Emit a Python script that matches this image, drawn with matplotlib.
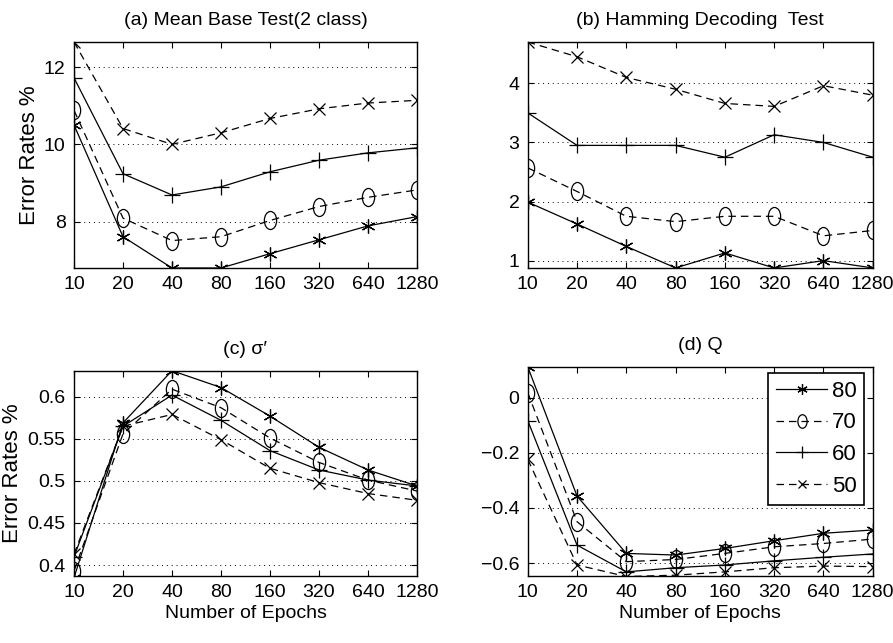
import matplotlib
matplotlib.use("Agg")
import matplotlib.pyplot as plt
from matplotlib.path import Path
from matplotlib.transforms import Affine2D

plt.rcParams['font.family'] = ['Liberation Sans', 'DejaVu Sans']
plt.rcParams['font.size'] = 14

epochs = ['10', '20', '40', '80', '160', '320', '640', '1280']
series_labels = ['80', '70', '60', '50']

a_80 = [10.5, 7.61, 6.8, 6.8, 7.17, 7.53, 7.89, 8.13]
a_70 = [10.88, 8.09, 7.51, 7.61, 8.03, 8.39, 8.63, 8.82]
a_60 = [11.72, 9.24, 8.69, 8.90, 9.29, 9.59, 9.78, 9.91]
a_50 = [12.65, 10.41, 10.0, 10.3, 10.67, 10.92, 11.07, 11.14]

b_80 = [1.99, 1.62, 1.24, 0.876, 1.13, 0.876, 1.0, 0.876]
b_70 = [2.57, 2.17, 1.75, 1.66, 1.75, 1.75, 1.42, 1.51]
b_60 = [3.50, 2.95, 2.95, 2.95, 2.75, 3.13, 3.0, 2.75]
b_50 = [4.70, 4.45, 4.10, 3.90, 3.66, 3.61, 3.96, 3.80]

c_80 = [0.385, 0.569, 0.631, 0.611, 0.577, 0.540, 0.513, 0.494]
c_70 = [0.393, 0.556, 0.609, 0.587, 0.551, 0.522, 0.501, 0.488]
c_60 = [0.410, 0.565, 0.602, 0.572, 0.536, 0.513, 0.501, 0.494]
c_50 = [0.413, 0.565, 0.579, 0.549, 0.515, 0.498, 0.485, 0.477]

d_80 = [0.112, -0.357, -0.565, -0.571, -0.547, -0.519, -0.492, -0.480]
d_70 = [0.018, -0.450, -0.595, -0.587, -0.565, -0.541, -0.529, -0.513]
d_60 = [-0.083, -0.535, -0.632, -0.617, -0.607, -0.592, -0.579, -0.567]
d_50 = [-0.224, -0.607, -0.649, -0.644, -0.632, -0.617, -0.611, -0.613]

panels = [
    dict(title='(a) Mean Base Test(2 class)', data=[a_80, a_70, a_60, a_50],
         ylim=(6.8, 12.65), yticks=[8, 10, 12], yticklabels=['8', '10', '12'],
         pos=[0.0829, 0.5832, 0.384, 0.3515], ylabel=True, xlabel=False, legend=False),
    dict(title='(b) Hamming Decoding  Test', data=[b_80, b_70, b_60, b_50],
         ylim=(0.875, 4.7), yticks=[1, 2, 3, 4], yticklabels=['1', '2', '3', '4'],
         pos=[0.591, 0.5832, 0.3863, 0.3515], ylabel=False, xlabel=False, legend=False),
    dict(title='(c) σ′', data=[c_80, c_70, c_60, c_50],
         ylim=(0.387, 0.631), yticks=[0.4, 0.45, 0.5, 0.55, 0.6],
         yticklabels=['0.4', '0.45', '0.5', '0.55', '0.6'],
         pos=[0.0829, 0.1042, 0.384, 0.3193], ylabel=True, xlabel=True, legend=False),
    dict(title='(d) Q', data=[d_80, d_70, d_60, d_50],
         ylim=(-0.647, 0.1125), yticks=[-0.6, -0.4, -0.2, 0],
         yticklabels=['\u22120.6', '\u22120.4', '\u22120.2', '0'],
         pos=[0.591, 0.1042, 0.3863, 0.3255], ylabel=False, xlabel=True, legend=True),
]

ellipse = Path.unit_circle().transformed(Affine2D().scale(0.68, 1.0))

styles = [
    dict(ls='-', marker=(6, 2, 0), ms=10),
    dict(ls=(0, (6, 4)), marker=ellipse, ms=13),
    dict(ls='-', marker='+', ms=12),
    dict(ls=(0, (6, 4)), marker='x', ms=8),
]

fig = plt.figure(figsize=(8.93, 6.43), dpi=100)
x = list(range(len(epochs)))
for p in panels:
    ax = fig.add_axes(p['pos'])
    for vals, lab, st in zip(p['data'], series_labels, styles):
        ax.plot(x, vals, color='black', lw=0.9, ls=st['ls'], marker=st['marker'],
                ms=st['ms'], mfc='none', mec='black', mew=0.9, label=lab)
    ax.set_xlim(0, 7)
    ax.set_ylim(*p['ylim'])
    ax.set_xticks(x)
    ax.set_xticklabels(epochs)
    ax.set_yticks(p['yticks'])
    ax.set_yticklabels(p['yticklabels'])
    ax.tick_params(direction='in', top=True, right=True, length=4, width=0.8,
                   labelsize=14, pad=6)
    ax.yaxis.grid(True, ls=(0, (1, 4)), color='black', lw=0.7)
    for s in ax.spines.values():
        s.set_linewidth(1.0)
    ax.set_title(p['title'], fontsize=14, pad=12)
    if p['ylabel']:
        ax.set_ylabel('Error Rates %', fontsize=16, labelpad=3)
    if p['xlabel']:
        ax.set_xlabel('Number of Epochs', fontsize=14, labelpad=3)
    if p['legend']:
        leg = ax.legend(loc='upper right', fancybox=False, edgecolor='black',
                        framealpha=1, fontsize=16, handlelength=2.3,
                        borderpad=0.35, labelspacing=0.48, handletextpad=0.2,
                        markerscale=0.75, borderaxespad=0.0,
                        bbox_to_anchor=(0.975, 0.97))
        leg.get_frame().set_linewidth(1.2)

fig.savefig('out.png', dpi=100)
